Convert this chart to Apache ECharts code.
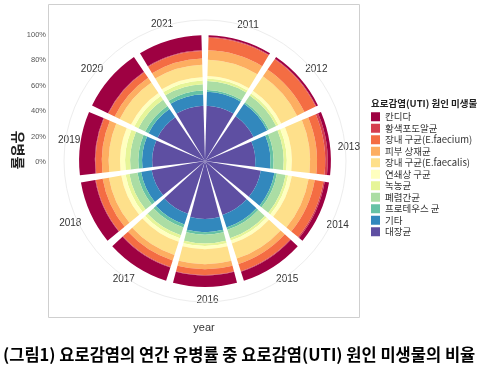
<!DOCTYPE html>
<html>
<head>
<meta charset="utf-8">
<script src="https://cdn.jsdelivr.net/npm/echarts@6/dist/echarts.min.js"></script>
<style>
html,body{margin:0;padding:0;background:#fff;}
#chart{width:486px;height:369px;}
</style>
</head>
<body>
<div id="chart"></div>
<script>
// ---- data ----
const years = ['2011','2012','2013','2014','2015','2016','2017','2018','2019','2020','2021'];
const radialTicks = [0, 20, 40, 60, 80, 100];
// inner to outer stacking order
const categories = ['대장균','기타','프로테우스 균','폐렴간균','녹농균','연쇄상 구균','장내 구균(E.faecalis)','피부 상재균','장내 구균(E.faecium)','황색포도알균','칸디다'];
const ecoli       = [44, 43, 40, 45, 45, 46, 44, 43, 42, 42, 44];
const others      = [11, 12, 12, 11, 10.5, 10.5, 9, 8.5, 8, 8, 9];
const proteus     = [1.5, 1.5, 2.5, 2, 2, 2, 2.5, 3, 3, 3, 3];
const klebsiella  = [7, 6.5, 8, 7, 7, 7, 6.5, 6.5, 6.5, 6, 5];
const pseudomonas = [2, 2, 2.5, 2, 2, 2, 2.5, 3, 4, 3.5, 3];
const strepto     = [2, 2.5, 4, 3, 2.5, 2.5, 3, 3.5, 4, 3, 2.5];
const faecalis    = [13, 14, 14.5, 13.5, 12.5, 12, 11, 10, 9, 10, 10];
const skinFlora   = [7.5, 6.5, 5.5, 5, 4.5, 4, 4.5, 5, 5.5, 4.5, 5];
const faecium     = [10, 10, 6.5, 7, 6, 4.5, 5.5, 5.5, 5, 5.5, 6];
const staph       = [0.5, 0.5, 2, 1, 0.5, 0.5, 0.5, 0.5, 0.5, 0.5, 0.5];
const candida     = [1.5, 1.5, 2.5, 3.5, 7.5, 9, 11, 11.5, 12.5, 14, 12];
const seriesValues = [ecoli, others, proteus, klebsiella, pseudomonas, strepto, faecalis, skinFlora, faecium, staph, candida];
const colors = ['#5E4FA2','#3288BD','#66C2A5','#ABDDA4','#E6F598','#FFFFBF','#FEE08B','#FDAE61','#F46D43','#D53E4F','#9E0142'];

const chart = echarts.init(document.getElementById('chart'), null, {renderer:'canvas'});
const latin = 'Liberation Sans, Arial, sans-serif';
const kr = '"Noto Sans CJK KR", sans-serif';

// per-label nudges (style only) to mimic ggplot's polar label placement
const labelPads = {
  '2011': [0, 0, 10, 15], '2012': [0, 0, 4.5, 5], '2013': [8, 0, 0, 8], '2014': [7, 0, 0, 7],
  '2015': [7, 0, 0, 3], '2016': [8, 0, 0, 5], '2017': [7, 2, 0, 0], '2018': [5, 9, 0, 0],
  '2019': [0, 0, 6, 0], '2020': [0, 6.7, 4.5, 0], '2021': [0, 15, 11, 0]
};
const rich = {};
Object.keys(labelPads).forEach(k => { rich['y' + k] = { padding: labelPads[k], fontSize: 10, color: '#333', fontFamily: latin }; });

const option = {
  animation: false,
  backgroundColor: '#fff',
  polar: { center: [205, 161], radius: [0, 141] },
  angleAxis: {
    type: 'category', data: years, startAngle: 90, clockwise: true, boundaryGap: true,
    axisTick: { show: false }, splitLine: { show: false },
    axisLine: { show: true, lineStyle: { color: '#ededed', width: 1 } },
    axisLabel: { margin: -15, fontSize: 10, color: '#333', fontFamily: latin,
      formatter: v => '{y' + v + '|' + v + '}', rich: rich }
  },
  radiusAxis: { type: 'value', min: 0, max: 112, show: false, splitLine: { show: false } },
  grid: { left: 48, top: 35, height: 127, width: 10, show: false },
  xAxis: { type: 'value', show: false },
  yAxis: {
    type: 'value', min: radialTicks[0], max: radialTicks[radialTicks.length-1], interval: 20,
    axisLine: { show: false }, axisTick: { show: false }, splitLine: { show: false },
    axisLabel: { formatter: '{value}%', fontSize: 7.5, color: '#555', margin: 2, fontFamily: latin }
  },
  legend: {
    orient: 'vertical', left: 371, top: 112, padding: 0,
    itemWidth: 9, itemHeight: 9, itemGap: 2, icon: 'rect',
    data: categories.slice().reverse(),
    textStyle: { fontSize: 9.5, color: '#333', fontFamily: kr }
  },
  series: categories.map((name, i) => ({
    type: 'bar', coordinateSystem: 'polar', name: name, stack: 'total',
    data: seriesValues[i], barCategoryGap: '10%',
    itemStyle: { color: colors[i] }
  })),
  graphic: [
    { type: 'rect', shape: { x: 48.5, y: 4.5, width: 311, height: 313 },
      style: { fill: 'none', stroke: '#cfcfcf', lineWidth: 1 }, silent: true, z: -1 },
    { type: 'text', x: 204, y: 328,
      style: { text: 'year', fill: '#333', font: '11px ' + latin, textAlign: 'center', textVerticalAlign: 'middle' } },
    { type: 'text', x: 18, y: 150, rotation: -Math.PI / 2,
      style: { text: '유병률', fill: '#222', font: 'bold 14px ' + kr, textAlign: 'center', textVerticalAlign: 'middle' } },
    { type: 'text', x: 371, y: 103,
      style: { text: '요로감염(UTI) 원인 미생물', fill: '#222', font: 'bold 9.5px ' + kr, textAlign: 'left', textVerticalAlign: 'middle' } },
    { type: 'text', x: 3, y: 355,
      style: { text: '(그림1) 요로감염의 연간 유병률 중 요로감염(UTI) 원인 미생물의 비율', fill: '#000', font: 'bold 16.5px ' + kr, textAlign: 'left', textVerticalAlign: 'middle' } }
  ]
};
chart.setOption(option);
</script>
</body>
</html>
